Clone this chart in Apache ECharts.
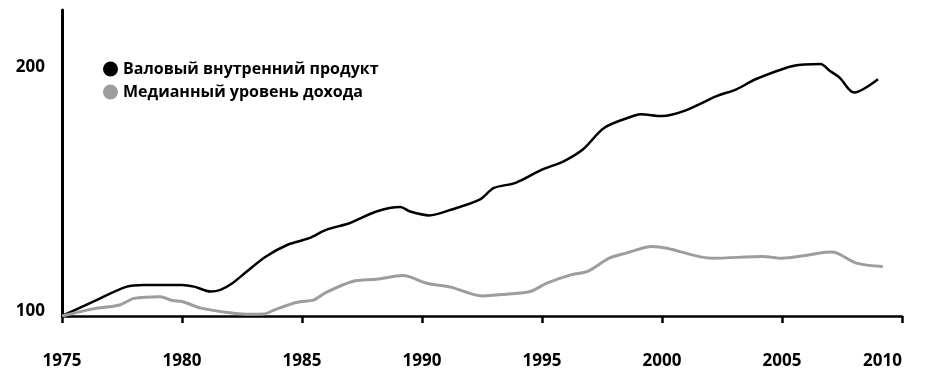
<!DOCTYPE html>
<html><head><meta charset="utf-8">
<script src="https://cdn.jsdelivr.net/npm/echarts@6/dist/echarts.min.js"></script>
<style>html,body{margin:0;padding:0;background:#fff}#c{width:932px;height:385px}</style>
</head><body><div id="c"></div>
<script>
const gdpYears = [1975.0,1976.3,1977.7,1978.4,1980.0,1980.5,1981.2,1981.6,1982.1,1982.7,1983.5,1984.4,1985.3,1986.0,1987.0,1988.1,1989.1,1989.5,1990.3,1991.2,1992.4,1993.0,1993.9,1995.0,1995.9,1996.7,1997.6,1998.8,1999.1,2000.0,2000.9,2002.3,2003.1,2003.9,2005.5,2006.6,2007.0,2007.4,2008.0,2009.0];
const gdpValues = [100,105.9,112,112.7,112.7,112,110,110.7,113.4,118.2,124.3,129.1,131.8,135.2,138,142.7,144.5,142.7,141.1,143.4,147.5,152.3,154.4,159.8,163.2,168,176.9,181.7,182.4,181.7,183.7,189.9,192.6,196.7,202.2,202.9,200.1,197.4,191.3,196.7];
const incomeYears = [1975.0,1976.3,1977.4,1978.0,1979.1,1979.6,1980.0,1980.8,1981.9,1982.7,1983.4,1983.9,1984.8,1985.5,1986.0,1987.1,1988.1,1989.2,1990.2,1991.2,1992.5,1993.5,1994.5,1995.2,1996.2,1996.9,1997.8,1998.5,1999.6,2000.2,2002.1,2004.2,2005.0,2005.9,2007.0,2007.3,2008.1,2009.2];
const incomeValues = [100,102.9,104.5,107.2,107.9,106.3,105.9,103.2,101.4,100.7,100.8,102.7,105.6,106.6,109.6,114.1,115,116.5,113.4,111.8,108.2,108.9,110,113.4,116.8,118.2,123.6,125.7,128.4,127.7,123.6,124.3,123.6,124.6,126.1,125.7,121.6,120.2];
const seriesNames = ['Валовый внутренний продукт','Медианный уровень дохода'];
const xTicks = {min:1975, max:2010, step:5};
const yTicks = {min:100, max:225, step:100};

const zip = (a,b)=>a.map((v,i)=>[v,b[i]]);
const chart = echarts.init(document.getElementById('c'));
const font = '"Open Sans", sans-serif';
chart.setOption({
  animation:false,
  grid:{left:62,right:30,top:10,bottom:69},
  legend:{
    orient:'vertical', left:98, top:56, itemWidth:15, itemHeight:15, itemGap:7,
    icon:'circle',
    textStyle:{fontFamily:font,fontWeight:'bold',fontSize:16,color:'#000'},
    data:seriesNames
  },
  xAxis:{
    type:'value', min:xTicks.min, max:xTicks.max, interval:xTicks.step,
    splitLine:{show:false},
    axisLine:{lineStyle:{color:'#000',width:2.5}},
    axisTick:{lineStyle:{color:'#000',width:2.5},length:7},
    axisLabel:{fontFamily:font,fontWeight:'bold',fontSize:17,color:'#000',margin:37,alignMaxLabel:'right',
      formatter:v=>String(v)}
  },
  yAxis:{
    type:'value', min:yTicks.min, max:yTicks.max, interval:yTicks.step,
    splitLine:{show:false},
    axisLine:{show:true,lineStyle:{color:'#000',width:3}},
    axisTick:{show:false},
    axisLabel:{fontFamily:font,fontWeight:'bold',fontSize:17,color:'#000',margin:17,
      verticalAlign:'bottom',lineHeight:9,showMaxLabel:false,formatter:v=>String(v)}
  },
  series:[
    {name:seriesNames[0],type:'line',data:zip(gdpYears,gdpValues),smooth:0.3,showSymbol:false,
     lineStyle:{color:'#000',width:2.5},itemStyle:{color:'#000'}},
    {name:seriesNames[1],type:'line',data:zip(incomeYears,incomeValues),smooth:0.3,showSymbol:false,
     lineStyle:{color:'#9d9d9d',width:3},itemStyle:{color:'#9d9d9d'}}
  ]
});
</script></body></html>
